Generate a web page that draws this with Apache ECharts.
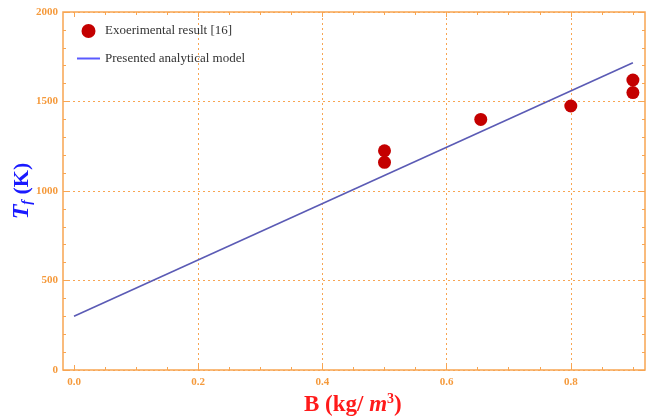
<!DOCTYPE html>
<html><head><meta charset="utf-8">
<script src="https://cdn.jsdelivr.net/npm/echarts@6/dist/echarts.min.js"></script>
<style>html,body{margin:0;padding:0;background:#fff}#c{width:663px;height:420px}</style>
</head><body><div id="c"></div>
<script>
const expB = [0.5, 0.5, 0.655, 0.8, 0.9, 0.9];
const expT = [1225, 1160, 1400, 1475, 1620, 1550];
const modelB = [0, 0.9];
const modelT = [300, 1717];
const xGridLines = [0.2, 0.4, 0.6, 0.8];
const seriesNames = ['Exoerimental result [16]', 'Presented analytical model'];

const OR = '#f8a552';
const ORT = '#f59a3c';
const serif = '"Liberation Serif","DejaVu Serif",serif';
const tickLbl = {color: ORT, fontWeight: 'bold', fontFamily: serif, fontSize: 11};

const chart = echarts.init(document.getElementById('c'));
function xAx(pos, labels){
  return {gridIndex:1, type:'value', position:pos, min:0, max:1, interval:0.2,
    axisLine:{show:false},
    axisTick:{show:true, inside:true, length:5, lineStyle:{color:OR, width:1}},
    minorTick:{show:true, splitNumber:4, length:3, lineStyle:{color:OR, width:1}},
    axisLabel: labels ? Object.assign({show:true, margin:7, formatter:v=>v.toFixed(1)}, tickLbl) : {show:false},
    splitLine:{show:false}};
}
function yAx(pos, labels){
  return {gridIndex:0, type:'value', position:pos, min:0, max:2000, interval:500,
    axisLine:{show:false},
    axisTick:{show:true, inside:true, length:5, lineStyle:{color:OR, width:1}},
    minorTick:{show:true, splitNumber:5, length:3, lineStyle:{color:OR, width:1}},
    axisLabel: labels ? Object.assign({show:true, margin:5, formatter:v=>String(v)}, tickLbl) : {show:false},
    splitLine:{show:labels, lineStyle:{color:OR, type:[2,3], width:1}}};
}
const y0 = yAx('left', true);
y0.name = '{ti|T}{sub|f}{t| (K)}';
y0.nameLocation = 'middle';
y0.nameRotate = 90;
y0.nameGap = 29;
y0.nameMoveOverlap = false;
y0.nameTextStyle = {rich:{
  ti:{fontFamily:serif, fontSize:24, fontWeight:'bold', fontStyle:'italic', color:'#1a1aff'},
  sub:{fontFamily:serif, fontSize:14, fontWeight:'bold', fontStyle:'italic', color:'#1a1aff', padding:[10,0,0,0]},
  t:{fontFamily:serif, fontSize:22, fontWeight:'bold', color:'#1a1aff'}
}};

chart.setOption({
  animation:false,
  grid:[
    {left:63, right:18, top:12, bottom:50, show:true, borderColor:OR, borderWidth:1.5, backgroundColor:'transparent', outerBoundsMode:'none'},
    {left:74, right:-32, top:12, bottom:50, show:false, outerBoundsMode:'none'}
  ],
  title:{
    text:'{b|B (kg/ }{i|m}{s|3}{b|)}',
    left:299, top:387,
    textStyle:{rich:{
      b:{fontFamily:serif, fontSize:23, fontWeight:'bold', color:'#ff1a1a'},
      i:{fontFamily:serif, fontSize:23, fontWeight:'bold', fontStyle:'italic', color:'#ff1a1a'},
      s:{fontFamily:serif, fontSize:14, fontWeight:'bold', color:'#ff1a1a', padding:[0,0,12,0]}
    }}
  },
  legend:{
    orient:'vertical', left:72, top:19, itemWidth:23, itemHeight:14, itemGap:14,
    textStyle:{fontFamily:serif, fontSize:13, color:'#333'},
    data:[
      {name:seriesNames[0], icon:'circle'},
      {name:seriesNames[1], icon:'path://M0,0 H23 V2 H0 Z', itemStyle:{color:'#5a5aff'}}
    ]
  },
  xAxis:[xAx('bottom', true), xAx('top', false), {gridIndex:0, type:'value', show:false, min:0, max:1}],
  yAxis:[y0, yAx('right', false), {gridIndex:1, type:'value', show:false, min:0, max:2000}],
  series:[
    {name:seriesNames[1], type:'line', xAxisIndex:0, yAxisIndex:2,
      data:modelB.map((b,i)=>[b, modelT[i]]), symbol:'none',
      lineStyle:{color:'#5b5bb5', width:1.6}, z:3,
      markLine:{silent:true, z:1, symbol:'none', label:{show:false},
        lineStyle:{color:OR, type:[2,3], width:1},
        data:xGridLines.map(v=>({xAxis:v}))}},
    {name:seriesNames[0], type:'scatter', xAxisIndex:0, yAxisIndex:2,
      data:expB.map((b,i)=>[b, expT[i]]), symbol:'circle', symbolSize:13,
      itemStyle:{color:'#c40000', opacity:1}, z:4}
  ]
});
</script></body></html>
